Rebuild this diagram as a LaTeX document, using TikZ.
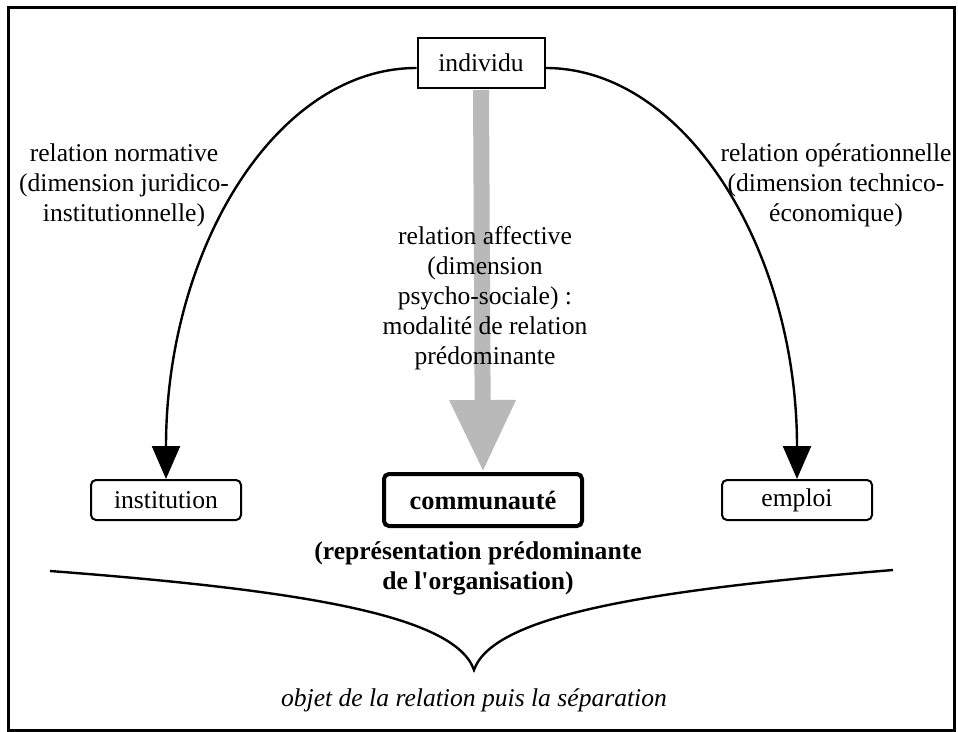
\documentclass[tikz,border=0pt]{standalone}
\usepackage{fontspec}
\setmainfont{Liberation Serif}
\definecolor{shaftgray}{RGB}{185, 185, 185}
\usepackage{tikz}
\usetikzlibrary{arrows.meta, positioning, calc}

\begin{document}
\begin{tikzpicture}[
  x=0.5pt, y=-0.5pt,
  font=\fontsize{12.8}{15}\selectfont,
  sbox/.style={draw, line width=1pt, minimum width=63.5pt, minimum height=25pt, inner sep=2pt},
  rbox/.style={draw, line width=1pt, rounded corners=2.5pt, minimum width=75pt, minimum height=20pt, inner sep=2pt},
  cbox/.style={draw, line width=2pt, rounded corners=2.5pt, minimum width=99pt, minimum height=26pt, inner sep=2pt, font=\fontsize{13.2}{15}\selectfont\bfseries},
  lbl/.style={align=center, inner sep=0pt},
  rel/.style={line width=1.2pt, -{Triangle[length=16.5pt, width=14pt]}}
]
  \useasboundingbox (0,0) rectangle (958,732);
  \draw[line width=1.5pt] (8,8) rectangle (954,730);

  % boxes
  \node[sbox] (individu) at (481, 63) {individu};
  \node[rbox] (institution) at (166, 500) {institution};
  \node[cbox] (communaute) at (483, 500) {communauté};
  \node[rbox] (emploi) at (797, 500) {emploi};

  % dominant relation (grey arrow)
  \draw[shaftgray, line width=8pt, -{Triangle[length=36pt, width=31pt]}, shorten <=0.5pt]
    (individu.south) -- (communaute.north);

  % the two other relations
  \draw[rel] ([yshift=-2.5pt]individu.west) .. controls +(-141,0) and +(0,-229) .. (institution.north);
  \draw[rel] ([yshift=-2.5pt]individu.east) .. controls +(140,0) and +(0,-229) .. (emploi.north);

  % labels
  \node[lbl] (normative) at (124, 185) {relation normative\\(dimension juridico-\\institutionnelle)};
  \node[lbl] (operation) at (836, 185) {relation opérationnelle\\(dimension technico-\\économique)};
  \node[lbl] (affective) at (485, 298) {relation affective\\(dimension\\psycho-sociale) :\\modalité de relation\\prédominante};
  \node[lbl, font=\fontsize{12.8}{15}\selectfont\bfseries] (represent) at (478, 568)
    {(représentation prédominante\\de l\textquotesingle organisation)};

  % brace
  \coordinate (braceL) at (50, 571);
  \coordinate (braceR) at (893, 570);
  \coordinate (cusp) at (474, 670);
  \draw[line width=1.2pt] (braceL) .. controls (300, 590) and (455, 615) .. (cusp)
    .. controls (493, 615) and (650, 590) .. (braceR);
  \node[lbl, font=\fontsize{12.8}{15}\selectfont\itshape] (objet) at (474, 700)
    {objet de la relation puis la séparation};
\end{tikzpicture}
\end{document}
